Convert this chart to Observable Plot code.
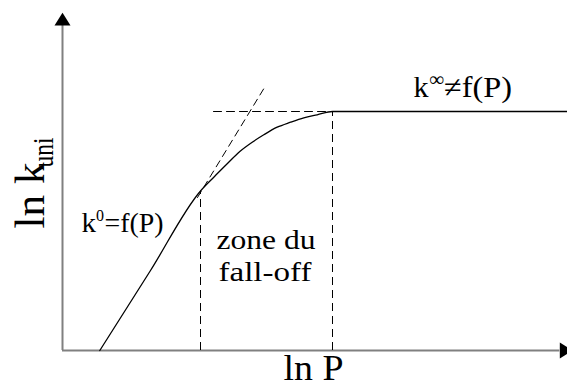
<!DOCTYPE html>
<html><head><meta charset="utf-8">
<script src="https://cdn.jsdelivr.net/npm/d3@7"></script>
<script src="https://cdn.jsdelivr.net/npm/@observablehq/plot@0.6"></script>
<style>html,body{margin:0;padding:0;background:#fff} svg{display:block}</style>
</head><body><div id="chart"></div>
<script>
// Curve ln k_uni versus ln P (arbitrary units)
const curveLnP = [3.73, 8.8, 13.8, 15.13, 16.47, 17.73, 18.97, 20.13, 21.47, 22.8, 24.13, 25.47, 27.0, 50.5];
const curveLnK = [0, 8.0, 15.95, 17.33, 18.67, 19.9, 20.83, 21.57, 22.33, 22.83, 23.27, 23.57, 23.9, 23.9];
// Low-pressure tangent (dashed)
const tangentLnP = [13.5, 20.2];
const tangentLnK = [15.3, 26.3];
// High-pressure asymptote (dashed)
const asymLnP = [15.1, 27.0];
const asymLnK = [23.9, 23.9];
// Fall-off zone boundaries
const zoneLnP = [13.8, 27.0];
const zoneLnK = [15.95, 23.9];
// Axis extents
const axisMaxP = 49.73;
const axisMaxK = 32.5;
// Labels
const labelTexts = ["ln k", "uni", "ln P", "k", "0", "=f(P)", "zone du", "fall-off", "k", "∞", "≠f(P)"];
const labelLnP = [-1.9, -1.0, 22.1, 1.9, 3.35, 4.2, 15.4, 15.6, 35.1, 36.65, 38.15];
const labelLnK = [12.2, 18.3, -2.95, 11.9, 13.0, 11.9, 10.2, 7.0, 25.33, 26.5, 25.33];

const labelStyles = [
  {fontSize: 42, rotate: -90, len: 66},
  {fontSize: 30, rotate: -90, len: 30},
  {fontSize: 36, rotate: 0, len: 60},
  {fontSize: 28, rotate: 0, len: 14.5},
  {fontSize: 16, rotate: 0, len: 8},
  {fontSize: 28, rotate: 0, len: 59},
  {fontSize: 28, rotate: 0, len: 99},
  {fontSize: 28, rotate: 0, len: 93},
  {fontSize: 30, rotate: 0, len: 15},
  {fontSize: 20, rotate: 0, len: 15},
  {fontSize: 30, rotate: 0, len: 68}
];

const serif = "'Liberation Serif', serif";

const curve = curveLnP.map((x, i) => ({x, y: curveLnK[i]}));
const tangent = tangentLnP.map((x, i) => ({x, y: tangentLnK[i]}));
const asym = asymLnP.map((x, i) => ({x, y: asymLnK[i]}));

const upArrow = {draw(ctx, size) { const r = Math.sqrt(size / Math.PI); ctx.moveTo(0, -1.6 * r); ctx.lineTo(r, 0); ctx.lineTo(-r, 0); ctx.closePath(); }};
const rightArrow = {draw(ctx, size) { const r = Math.sqrt(size / Math.PI); ctx.moveTo(1.6 * r, 0); ctx.lineTo(0, r); ctx.lineTo(0, -r); ctx.closePath(); }};

const axisColor = "#808080";
const dash = "8,5";

const marks = [
  Plot.ruleY([0], {x1: () => 0, x2: () => axisMaxP, stroke: axisColor, strokeWidth: 2}),
  Plot.ruleX([0], {y1: () => 0, y2: () => axisMaxK, stroke: axisColor, strokeWidth: 2}),
  Plot.dot([0], {x: () => 0, y: () => axisMaxK, symbol: upArrow, r: 8, fill: "black", stroke: "none"}),
  Plot.dot([0], {x: () => axisMaxP, y: () => 0, symbol: rightArrow, r: 8, fill: "black", stroke: "none"}),
  Plot.ruleX(zoneLnP.map((x, i) => i), {x: i => zoneLnP[i], y1: () => 0, y2: i => zoneLnK[i], stroke: "black", strokeWidth: 1, strokeDasharray: dash}),
  Plot.line(tangent, {x: "x", y: "y", stroke: "black", strokeWidth: 1, strokeDasharray: "7,5"}),
  Plot.line(asym, {x: "x", y: "y", stroke: "black", strokeWidth: 1, strokeDasharray: dash}),
  Plot.line(curve, {x: "x", y: "y", stroke: "black", strokeWidth: 1.3, curve: "monotone-x"}),
  ...labelTexts.map((t, i) => Plot.text([i], {
    x: j => labelLnP[j], y: j => labelLnK[j], text: j => labelTexts[j],
    fontSize: labelStyles[i].fontSize, rotate: labelStyles[i].rotate,
    textAnchor: "start", lineAnchor: "bottom", fill: "black",
    fontFamily: serif
  }))
];

const svg = Plot.plot({
  width: 567,
  height: 383,
  margin: 0,
  x: {domain: [0, 50.5], range: [62, 567], axis: null},
  y: {domain: [0, 33.8], range: [350, 12], axis: null},
  style: {background: "white", fontFamily: serif, overflow: "visible"},
  marks
});

d3.select(svg).selectAll('g[aria-label="text"] text').each(function(_, j) {
  if (labelStyles[j]) {
    this.setAttribute("textLength", labelStyles[j].len);
    this.setAttribute("lengthAdjust", "spacingAndGlyphs");
  }
});

document.getElementById("chart").appendChild(svg);
</script>
</body></html>
